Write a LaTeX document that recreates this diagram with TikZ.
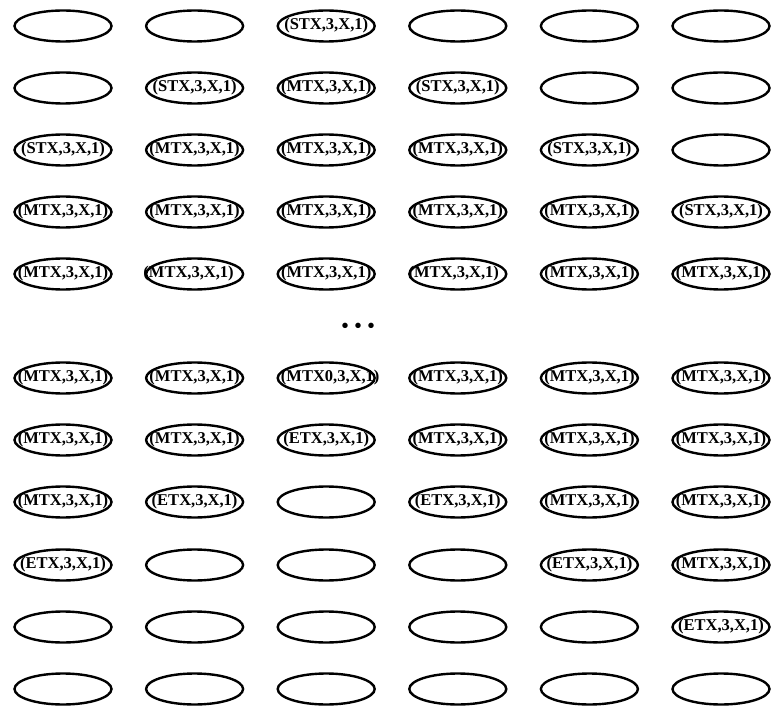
\documentclass[tikz,border=0pt]{standalone}
\usepackage{fontspec}
\setmainfont{Liberation Serif}
\newfontfamily\lblfont{Liberation Serif Bold}
\usetikzlibrary{shapes.geometric}
\tikzset{
  cell/.style={ellipse, draw, line width=2.4pt, minimum width=97pt, minimum height=31pt,
    inner sep=0pt, font=\lblfont\fontsize{16.5}{17}\selectfont},
  dotsnode/.style={font=\lblfont\fontsize{20}{20}\selectfont, inner sep=0pt}
}
\newcommand{\lbl}[1]{\makebox[0pt]{#1}}
\begin{document}
\begin{tikzpicture}[x=1pt,y=-1pt]
\useasboundingbox (0,0) rectangle (771,711);
\def\ca{63}\def\cb{194.6}\def\cc{326.2}\def\cd{457.8}\def\ce{589.4}\def\cf{721}
% row 1
\node[cell] (r1c1) at (\ca,26) {};
\node[cell] (r1c2) at (\cb,26) {};
\node[cell] (r1c3) at (\cc,26) {\lbl{(STX,3,X,1)}};
\node[cell] (r1c4) at (\cd,26) {};
\node[cell] (r1c5) at (\ce,26) {};
\node[cell] (r1c6) at (\cf,26) {};
% row 2
\node[cell] (r2c1) at (\ca,88) {};
\node[cell] (r2c2) at (\cb,88) {\lbl{(STX,3,X,1)}};
\node[cell] (r2c3) at (\cc,88) {\lbl{(MTX,3,X,1)}};
\node[cell] (r2c4) at (\cd,88) {\lbl{(STX,3,X,1)}};
\node[cell] (r2c5) at (\ce,88) {};
\node[cell] (r2c6) at (\cf,88) {};
% row 3
\node[cell] (r3c1) at (\ca,150) {\lbl{(STX,3,X,1)}};
\node[cell] (r3c2) at (\cb,150) {\lbl{(MTX,3,X,1)}};
\node[cell] (r3c3) at (\cc,150) {\lbl{(MTX,3,X,1)}};
\node[cell] (r3c4) at (\cd,150) {\lbl{(MTX,3,X,1)}};
\node[cell] (r3c5) at (\ce,150) {\lbl{(STX,3,X,1)}};
\node[cell] (r3c6) at (\cf,150) {};
% row 4
\node[cell] (r4c1) at (\ca,212) {\lbl{(MTX,3,X,1)}};
\node[cell] (r4c2) at (\cb,212) {\lbl{(MTX,3,X,1)}};
\node[cell] (r4c3) at (\cc,212) {\lbl{(MTX,3,X,1)}};
\node[cell] (r4c4) at (\cd,212) {\lbl{(MTX,3,X,1)}};
\node[cell] (r4c5) at (\ce,212) {\lbl{(MTX,3,X,1)}};
\node[cell] (r4c6) at (\cf,212) {\lbl{(STX,3,X,1)}};
% row 5
\node[cell] (r5c1) at (\ca,274) {\lbl{(MTX,3,X,1)}};
\node[cell] (r5c2) at (\cb,274) {\lbl{\hspace{-12pt}(MTX,3,X,1)}};
\node[cell] (r5c3) at (\cc,274) {\lbl{(MTX,3,X,1)}};
\node[cell] (r5c4) at (\cd,274) {\lbl{\hspace{-8pt}(MTX,3,X,1)}};
\node[cell] (r5c5) at (\ce,274) {\lbl{(MTX,3,X,1)}};
\node[cell] (r5c6) at (\cf,274) {\lbl{(MTX,3,X,1)}};
% dots
\node[dotsnode] (dots) at (358,328) {•\hspace{6pt}•\hspace{6pt}•};
% row 6
\node[cell] (r6c1) at (\ca,378) {\lbl{(MTX,3,X,1)}};
\node[cell] (r6c2) at (\cb,378) {\lbl{(MTX,3,X,1)}};
\node[cell] (r6c3) at (\cc,378) {\lbl{\hspace{8pt}(MTX0,3,X,1)}};
\node[cell] (r6c4) at (\cd,378) {\lbl{(MTX,3,X,1)}};
\node[cell] (r6c5) at (\ce,378) {\lbl{(MTX,3,X,1)}};
\node[cell] (r6c6) at (\cf,378) {\lbl{(MTX,3,X,1)}};
% row 7
\node[cell] (r7c1) at (\ca,440) {\lbl{(MTX,3,X,1)}};
\node[cell] (r7c2) at (\cb,440) {\lbl{(MTX,3,X,1)}};
\node[cell] (r7c3) at (\cc,440) {\lbl{(ETX,3,X,1)}};
\node[cell] (r7c4) at (\cd,440) {\lbl{(MTX,3,X,1)}};
\node[cell] (r7c5) at (\ce,440) {\lbl{(MTX,3,X,1)}};
\node[cell] (r7c6) at (\cf,440) {\lbl{(MTX,3,X,1)}};
% row 8
\node[cell] (r8c1) at (\ca,502) {\lbl{(MTX,3,X,1)}};
\node[cell] (r8c2) at (\cb,502) {\lbl{(ETX,3,X,1)}};
\node[cell] (r8c3) at (\cc,502) {};
\node[cell] (r8c4) at (\cd,502) {\lbl{(ETX,3,X,1)}};
\node[cell] (r8c5) at (\ce,502) {\lbl{(MTX,3,X,1)}};
\node[cell] (r8c6) at (\cf,502) {\lbl{(MTX,3,X,1)}};
% row 9
\node[cell] (r9c1) at (\ca,565) {\lbl{(ETX,3,X,1)}};
\node[cell] (r9c2) at (\cb,565) {};
\node[cell] (r9c3) at (\cc,565) {};
\node[cell] (r9c4) at (\cd,565) {};
\node[cell] (r9c5) at (\ce,565) {\lbl{(ETX,3,X,1)}};
\node[cell] (r9c6) at (\cf,565) {\lbl{(MTX,3,X,1)}};
% row 10
\node[cell] (r10c1) at (\ca,627) {};
\node[cell] (r10c2) at (\cb,627) {};
\node[cell] (r10c3) at (\cc,627) {};
\node[cell] (r10c4) at (\cd,627) {};
\node[cell] (r10c5) at (\ce,627) {};
\node[cell] (r10c6) at (\cf,627) {\lbl{(ETX,3,X,1)}};
% row 11
\node[cell] (r11c1) at (\ca,689) {};
\node[cell] (r11c2) at (\cb,689) {};
\node[cell] (r11c3) at (\cc,689) {};
\node[cell] (r11c4) at (\cd,689) {};
\node[cell] (r11c5) at (\ce,689) {};
\node[cell] (r11c6) at (\cf,689) {};
\end{tikzpicture}
\end{document}
